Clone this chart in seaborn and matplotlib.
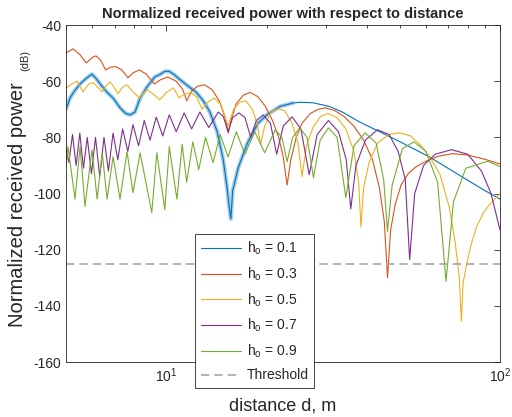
import numpy as np
import pandas as pd
import seaborn as sns
import matplotlib
matplotlib.use("Agg")
import matplotlib.pyplot as plt
from matplotlib.ticker import LogLocator, NullFormatter

# values: (distance d [m], normalized received power [dB])
h01 = [(5.0, -70), (5.14, -66), (5.3, -63.5), (5.51, -61), (5.75, -59), (5.98, -57.5), (6.15, -59),
       (6.33, -61), (6.64, -64), (6.92, -66), (7.26, -69.5), (7.55, -71.5), (7.78, -72), (8.05, -71),
       (8.34, -66), (8.75, -62), (9.23, -58.5), (9.6, -57.5), (9.89, -56.5), (10.2, -56.5), (10.5, -57.5),
       (11.0, -59.5), (11.4, -61), (12.3, -64), (12.9, -67), (13.5, -71), (14.2, -78), (14.8, -88),
       (15.0, -93), (15.2, -98), (15.4, -104), (15.6, -109), (15.8, -99), (16.1, -95), (16.4, -91),
       (17.0, -86), (17.5, -82), (18.8, -75), (20.0, -72), (21.9, -69), (23.9, -67.8), (25.1, -67.5),
       (27.5, -67.7), (30.8, -69), (33.7, -71), (37.9, -74.5), (42.7, -77.5), (50.0, -81.5),
       (61.5, -87), (75.6, -93.5), (88.7, -98.5), (100, -102)]

h03 = [(5.0, -50), (5.25, -48.5), (5.5, -50.5), (5.75, -53.5), (6.0, -51.5), (6.15, -51), (6.35, -52.5),
       (6.57, -56), (6.8, -55), (7.05, -54.8), (7.35, -56), (7.67, -58.8), (7.95, -57), (8.3, -56),
       (8.7, -57.5), (9.2, -61), (9.6, -59.5), (10.1, -58.5), (10.7, -60), (11.2, -63), (11.5, -67),
       (11.9, -63.5), (12.4, -61.8), (13.0, -61.3), (13.7, -63), (14.4, -67), (15.0, -73), (15.33, -78.5),
       (15.7, -73), (16.2, -68), (17.0, -65), (17.8, -64), (18.8, -65.5), (19.8, -69), (20.8, -74),
       (21.7, -80), (22.4, -87), (23.0, -97), (23.6, -88), (24.5, -80), (25.5, -75), (27.0, -71.5),
       (28.5, -70), (30.0, -69.5), (32.0, -70.5), (34.0, -72.5), (36.5, -76), (39.0, -81), (41.5, -88),
       (43.5, -98), (45.0, -110), (46.0, -130), (47.0, -113), (48.5, -104), (50.5, -97), (53.0, -93),
       (56.0, -90.5), (60.0, -88.5), (65.0, -86.8), (72.0, -85.8), (80.0, -86.3), (90.0, -87.8), (100, -89.5)]

h05 = [(5.0, -62.5), (5.2, -61), (5.4, -60), (5.62, -63.8), (5.85, -61), (6.03, -60.5), (6.2, -62),
       (6.42, -63.8), (6.6, -61.5), (6.78, -60.3), (6.95, -62), (7.16, -64.5), (7.4, -62), (7.62, -61.3),
       (7.9, -63.5), (8.3, -66), (8.5, -64.5), (8.75, -63), (9.1, -64.5), (9.55, -66.6), (10.0, -64),
       (10.5, -62.4), (10.9, -66), (11.2, -65), (11.8, -64), (12.3, -65.5), (12.8, -70), (13.3, -67.5),
       (13.9, -66), (14.6, -68.5), (15.3, -76), (15.9, -70), (16.6, -67.5), (17.3, -67), (18.1, -70),
       (18.7, -75), (19.15, -82.6), (19.7, -76), (20.6, -71), (21.6, -69.8), (22.6, -70.5), (23.8, -75),
       (24.8, -82), (25.5, -94), (26.3, -83), (27.5, -76.5), (29.0, -72.5), (30.5, -71.5), (32.5, -73),
       (34.5, -77), (36.5, -85), (37.7, -96), (38.3, -112), (39.0, -98), (40.5, -89), (43.0, -82),
       (46.5, -79), (50.0, -78.4), (54.0, -79.5), (58.0, -83), (62.0, -87.5), (66.0, -93), (70.5, -105),
       (73.5, -118), (75.5, -130), (76.6, -145.5), (77.5, -132), (79.5, -125), (82.0, -118), (85.0, -112),
       (89.0, -107), (93.0, -104), (100, -100)]

h07 = [(5.0, -84), (5.10, -89), (5.23, -79), (5.36, -90), (5.50, -78.5), (5.64, -91), (5.79, -80),
       (5.96, -93), (6.13, -80), (6.31, -94), (6.50, -80), (6.70, -92), (6.92, -78.5), (7.15, -88),
       (7.39, -77), (7.66, -85), (7.94, -75.5), (8.25, -83), (8.58, -74), (8.93, -81), (9.32, -72.8),
       (9.75, -79.5), (10.2, -72), (10.7, -78), (11.3, -71.3), (11.9, -77), (12.6, -71), (13.4, -76.5),
       (14.3, -71), (14.8, -72.5), (15.3, -78), (15.8, -73), (16.5, -71.3), (17.2, -73), (17.9, -80),
       (18.6, -74), (19.5, -72), (20.5, -75), (21.4, -86), (22.4, -76), (23.8, -72.7), (25.3, -77),
       (26.8, -93.3), (28.3, -79), (30.6, -74), (32.8, -78), (34.6, -88), (35.7, -105.5), (37.0, -90),
       (39.5, -81), (42.9, -77.3), (46.5, -79), (49.5, -85), (52.0, -95), (53.6, -123.5), (55.5, -100),
       (59.0, -90), (64.0, -86), (71.5, -84.4), (80.0, -86), (88.0, -92), (94.0, -100), (100, -113)]

h09 = [(5.0, -90), (5.07, -83.3), (5.32, -102), (5.51, -83.3), (5.70, -104.6), (5.98, -84.4), (6.20, -102),
       (6.42, -85.5), (6.64, -102), (6.92, -86.9), (7.26, -102), (7.62, -85.1), (7.94, -99.7), (8.34, -85.5),
       (9.04, -106.8), (9.36, -85.5), (9.89, -105.7), (10.2, -83.3), (10.75, -102), (11.15, -82.5),
       (11.5, -96), (12.0, -81.6), (12.5, -91.5), (13.1, -80), (13.8, -89), (14.5, -79), (15.3, -87),
       (16.2, -78), (17.2, -86), (18.4, -78), (19.7, -85.5), (21.2, -77.3), (22.2, -80), (23.0, -88.7),
       (23.9, -80), (25.1, -76.6), (26.4, -80), (27.6, -94.4), (28.9, -81), (30.6, -76.6), (32.5, -80),
       (34.5, -101.5), (36.5, -83), (39.4, -78.4), (42.5, -82), (44.8, -95), (46.0, -113.5), (47.5, -97),
       (51.0, -84), (55.2, -81.6), (60.0, -85), (65.0, -96), (68.9, -131.3), (72.5, -103), (79.0, -91),
       (91.9, -88.5), (100, -90.4)]

series = {"0.1": h01, "0.3": h03, "0.5": h05, "0.7": h07, "0.9": h09}
colors = ["#0072BD", "#D95319", "#EDB120", "#7E2F8E", "#77AC30"]
threshold = -125
noisy_until = 25  # the blue trace is visibly noisy (thick) below this distance

rows = []
for h, pts in series.items():
    for d, p in pts:
        rows.append({"d": d, "P": p, "h": h})
df = pd.DataFrame(rows)

sns.set_theme(style="white")
plt.rcParams["font.family"] = ["Liberation Sans", "DejaVu Sans"]
plt.rcParams["mathtext.fontset"] = "custom"
plt.rcParams["mathtext.rm"] = "Liberation Sans"
plt.rcParams["mathtext.it"] = "Liberation Sans:italic"
plt.rcParams["axes.unicode_minus"] = False

fig = plt.figure(figsize=(5.12, 4.17), dpi=100)
ax = fig.add_axes([66 / 512, 55 / 417, 434 / 512, 337 / 417])

sns.lineplot(data=df, x="d", y="P", hue="h", palette=colors, sort=False, estimator=None,
             linewidth=0.8, legend=False, ax=ax)
ax.axhline(threshold, ls=(0, (5, 3)), color="#A6A6A6", lw=1.2)
# thicker, faint band over the noisy part of the h=0.1 trace
noisy = df[(df["h"] == "0.1") & (df["d"] <= noisy_until)]
ax.plot(noisy["d"], noisy["P"], color=colors[0], lw=3, alpha=0.35, zorder=1.5)

ax.set_xscale("log")
ax.set_xlim(5, 100)
ax.set_ylim(-160, -40)
ax.set_yticks(np.arange(-160, -39, 20))
ax.xaxis.set_major_locator(LogLocator(base=10, numticks=5))
ax.xaxis.set_minor_locator(LogLocator(base=10, subs=np.arange(2, 10), numticks=10))
ax.xaxis.set_minor_formatter(NullFormatter())
ax.tick_params(which="both", direction="in", top=True, right=True, colors="#262626",
               labelsize=10, width=0.6)
ax.tick_params(which="major", length=4.5)
ax.tick_params(which="minor", length=2.5)
for s in ax.spines.values():
    s.set_color("#262626")
    s.set_linewidth(0.6)

ax.set_title("Normalized received power with respect to distance", fontsize=10.5,
             fontweight="bold", pad=5)
ax.set_xlabel("distance d, m", fontsize=13, labelpad=9, color="#262626")
ax.set_ylabel("")
fig.text(18 / 512, 1 - 205 / 417, "Normalized received power", rotation=90, fontsize=14.5,
         ha="center", va="center", color="#262626")
fig.text(25 / 512, 1 - 60 / 417, "(dB)", rotation=90, fontsize=8,
         ha="center", va="center", color="#262626")

labels = [r"h$_\mathrm{o}$ = " + h for h in series] + ["Threshold"]
leg = ax.legend(ax.lines[:6], labels, loc="lower center", bbox_to_anchor=(0.435, -0.077),
                borderaxespad=0, fontsize=10, frameon=True, fancybox=False, framealpha=1,
                edgecolor="#262626", handlelength=2.9, labelspacing=0.6, borderpad=0.4,
                handletextpad=0.4)
leg.get_frame().set_linewidth(0.6)
leg.set_zorder(5)

fig.savefig("out.png", dpi=100)
